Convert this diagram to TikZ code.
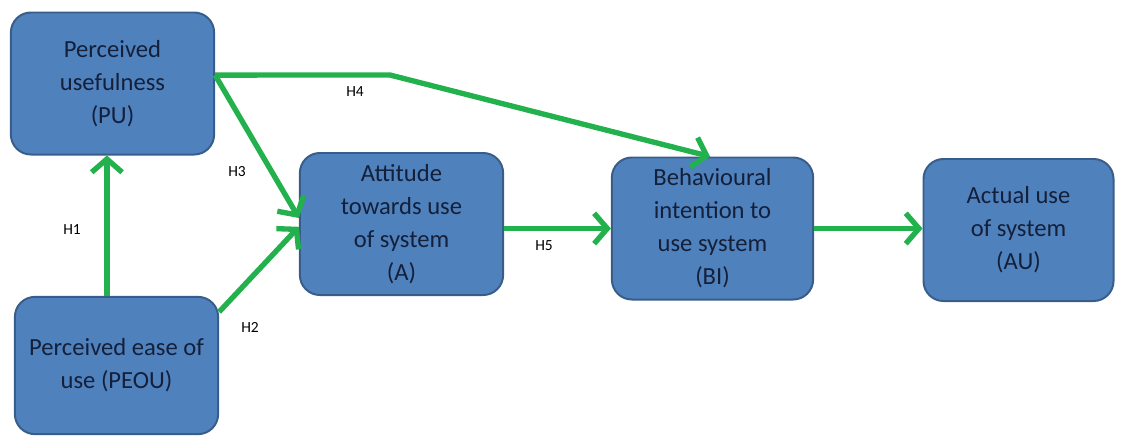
\documentclass[tikz,border=0pt]{standalone}
\usepackage{fontspec}
\setmainfont{Carlito}
\usepackage{xcolor}
\usetikzlibrary{arrows.meta,calc}

\definecolor{boxblue}{HTML}{4F81BD}
\definecolor{boxedge}{HTML}{385D8A}
\definecolor{boxtext}{HTML}{14203A}
\definecolor{hypgreen}{HTML}{22B14C}

\begin{document}
\begin{tikzpicture}[x=0.025cm, y=-0.025cm,
        construct/.style={draw=boxedge, line width=1.4pt, fill=boxblue, rounded corners=0.5cm,
            minimum width=5.08cm, minimum height=3.55cm, align=center, text=boxtext,
            font=\fontsize{17.5}{23.4}\selectfont},
        hyp/.style={draw=hypgreen, line width=3.8pt, -{Straight Barb[length=3.3mm,width=7.6mm]}},
        hlabel/.style={font=\fontsize{11}{13}\selectfont, text=black}]
    \useasboundingbox (0,0) rectangle (1129,435);

    % constructs
    \node[construct] (pu) at (112.5,83.5) {Perceived\\usefulness\\(PU)};
    \node[construct, minimum height=3.43cm] (peou) at (116.5,365.5) {\raisebox{-3pt}{Perceived ease of}\\\raisebox{-3pt}{use (PEOU)}};
    \node[construct] (att) at (401.5,224) {Attitude\\towards use\\of system\\(A)};
    \node[construct, minimum width=5.03cm] (bi) at (712.5,228.5) {Behavioural\\intention to\\use system\\(BI)};
    \node[construct, minimum width=4.75cm] (au) at (1018.5,230) {Actual use\\of system\\(AU)};

    \coordinate (h4bend) at (390,75);

    % hypotheses
    \draw[hyp] ([xshift=-0.24cm]peou.north) -- ([xshift=-0.24cm]peou.north |- pu.south);
    \draw[hyp] ([yshift=-0.4cm]peou.north east) -- ([yshift=-0.07cm]att.west);
    \draw[hyp] ([yshift=0.21cm]pu.east) -- ([yshift=0.15cm]att.west);
    \draw[hyp] ([yshift=0.21cm]pu.east) -- (h4bend) -- ([xshift=-0.06cm]bi.north);
    \draw[hyp] (att.east |- bi.west) -- (bi.west);
    \draw[hyp] (bi.east) -- (bi.east -| au.west);

    \node[hlabel] (h1) at (72,230) {H1};
    \node[hlabel] (h2) at (250,327) {H2};
    \node[hlabel] (h3) at (237,172) {H3};
    \node[hlabel] (h4) at (355,92) {H4};
    \node[hlabel] (h5) at (544,246) {H5};
\end{tikzpicture}
\end{document}
